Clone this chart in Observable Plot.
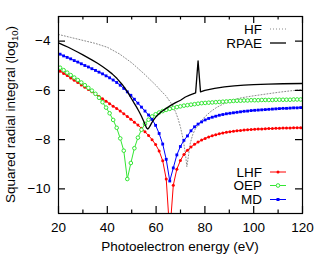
<!DOCTYPE html>
<html><head><meta charset="utf-8">
<script src="https://cdn.jsdelivr.net/npm/d3@7"></script>
<script src="https://cdn.jsdelivr.net/npm/@observablehq/plot@0.6"></script>
<style>
html,body{margin:0;padding:0;background:#fff;}
#chart{position:relative;width:327px;height:257px;}
</style></head><body><div id="chart"></div>
<script>
// Photoelectron energies (eV) of the computed points
const energies = [19.2, 20.65, 22.1, 23.55, 25, 26.45, 27.9, 29.35, 30.8, 32.25,
  33.7, 35.15, 36.6, 38.05, 39.5, 40.95, 42.4, 43.85, 45.3, 46.75,
  48.2, 49.65, 51.1, 52.55, 54, 55.45, 56.9, 58.35, 59.8, 61.25,
  62.7, 64.15, 65.6, 67.05, 68.5, 69.95, 71.4, 72.85, 74.3, 75.75,
  77.2, 78.65, 80.1, 81.55, 83, 84.45, 85.9, 87.35, 88.8, 90.25,
  91.7, 93.15, 94.6, 96.05, 97.5, 98.95, 100.4, 101.85, 103.3, 104.75,
  106.2, 107.65, 109.1, 110.55, 112, 113.45, 114.9, 116.35, 117.8, 119.25,
  120.7];
const lhf = [-5.13, -5.22, -5.31, -5.40, -5.50, -5.59, -5.68, -5.78, -5.87, -5.96,
  -6.06, -6.15, -6.25, -6.34, -6.44, -6.54, -6.64, -6.74, -6.84, -6.95,
  -7.06, -7.17, -7.29, -7.41, -7.54, -7.68, -7.83, -8.00, -8.20, -8.46,
  -8.86, -9.60, -11.8, -9.85, -9.20, -8.85, -8.60, -8.43, -8.30, -8.19,
  -8.10, -8.02, -7.95, -7.89, -7.84, -7.80, -7.76, -7.73, -7.70, -7.68,
  -7.66, -7.64, -7.63, -7.61, -7.60, -7.59, -7.58, -7.57, -7.57, -7.56,
  -7.55, -7.55, -7.54, -7.54, -7.53, -7.53, -7.53, -7.52, -7.52, -7.52,
  -7.52];
const oep = [-4.98, -5.08, -5.18, -5.28, -5.38, -5.48, -5.58, -5.68, -5.79, -5.90,
  -6.01, -6.14, -6.30, -6.48, -6.70, -6.93, -7.20, -7.52, -7.95, -8.45,
  -9.60, -8.95, -8.35, -7.92, -7.60, -7.36, -7.19, -7.06, -6.97, -6.90,
  -6.84, -6.79, -6.75, -6.71, -6.68, -6.65, -6.62, -6.60, -6.58, -6.56,
  -6.54, -6.52, -6.51, -6.50, -6.49, -6.48, -6.47, -6.46, -6.45, -6.44,
  -6.43, -6.42, -6.42, -6.41, -6.41, -6.40, -6.40, -6.40, -6.39, -6.39,
  -6.39, -6.39, -6.38, -6.38, -6.38, -6.38, -6.38, -6.37, -6.37, -6.37,
  -6.37];
const md = [-4.46, -4.53, -4.60, -4.66, -4.72, -4.79, -4.85, -4.92, -4.99, -5.05,
  -5.12, -5.19, -5.26, -5.33, -5.41, -5.49, -5.58, -5.68, -5.79, -5.92,
  -6.06, -6.20, -6.36, -6.52, -6.68, -6.84, -7.00, -7.18, -7.42, -7.75,
  -8.18, -8.80, -9.68, -9.15, -8.62, -8.28, -8.03, -7.85, -7.64, -7.48,
  -7.37, -7.28, -7.20, -7.14, -7.09, -7.05, -7.01, -6.98, -6.95, -6.93,
  -6.91, -6.89, -6.87, -6.85, -6.84, -6.82, -6.81, -6.80, -6.79, -6.78,
  -6.77, -6.76, -6.75, -6.74, -6.73, -6.73, -6.72, -6.71, -6.71, -6.70,
  -6.70];
const hfEnergy = [20, 25, 30, 35, 40, 45, 50, 55, 60, 62, 64, 66, 67, 68, 69, 70, 71, 72, 72.6,
  73.2, 74, 75, 76, 78, 80, 82.5, 85, 90, 95, 100, 105, 110, 115, 120];
const hf = [-3.73, -3.85, -3.97, -4.09, -4.25, -4.52, -4.88, -5.32, -5.80, -6.02, -6.22, -6.50, -6.66, -6.88, -7.15, -7.50, -7.95, -8.55, -9.10,
  -8.70, -8.15, -7.80, -7.58, -7.30, -7.07, -6.85, -6.68, -6.43, -6.30, -6.22, -6.15, -6.08, -6.02, -5.97];
const rpaeEnergy = [20, 22, 24, 26, 28, 30, 32, 34, 36, 38, 40, 42, 44, 46, 47, 48, 49, 50, 51, 52, 53, 54, 55,
  55.6, 56.1, 56.6, 57.1, 57.6, 58.2, 59, 60, 61, 62, 64, 66, 68, 70, 72, 74, 76.2, 77.2, 78.2,
  80, 84, 88, 92, 96, 100, 106, 112, 120];
const rpae = [-4.07, -4.16, -4.25, -4.35, -4.45, -4.56, -4.67, -4.78, -4.90, -5.03, -5.17, -5.33, -5.52, -5.75, -5.88, -6.02, -6.18, -6.35, -6.52, -6.68, -6.86, -7.05, -7.27,
  -7.42, -7.53, -7.57, -7.52, -7.43, -7.32, -7.20, -7.07, -6.97, -6.88, -6.74, -6.61, -6.50, -6.40, -6.27, -6.18, -6.10, -4.80, -6.06,
  -6.00, -5.92, -5.86, -5.82, -5.79, -5.77, -5.75, -5.73, -5.72];

const xMajorTicks = [20, 40, 60, 80, 100, 120];
const xMinorTicks = [30, 50, 70, 90, 110];
const yTicks = [-4, -6, -8, -10];
const xLabel = "Photoelectron energy (eV)";
const yLabelMain = "Squared radial integral (log";
const yLabelSub = "10";
const yLabelEnd = ")";

const colors = {HF: "#8a8a8a", RPAE: "#000000", LHF: "#ff0000", OEP: "#33e633", MD: "#0000ff"};

const toRows = (xs, ys) => xs.map((x, i) => ({x, y: ys[i]}));
const lhfRows = toRows(energies, lhf);
const oepRows = toRows(energies, oep);
const mdRows = toRows(energies, md);
const hfRows = toRows(hfEnergy, hf);
const rpaeRows = toRows(rpaeEnergy, rpae);

const font = "'Liberation Sans', Arial, Helvetica, sans-serif";
const W = 327, H = 257, mL = 58, mR = 25, mT = 16, mB = 44;
const fw = W - mL - mR, fh = H - mT - mB;
const major = 7, minor = 3.5;

const svg = Plot.plot({
  width: W,
  height: H,
  marginLeft: mL,
  marginRight: mR,
  marginTop: mT,
  marginBottom: mB,
  style: {fontFamily: font, fontSize: "13.5px", background: "white", color: "black"},
  x: {domain: [20, 120]},
  y: {domain: [-11, -3]},
  marks: [
    Plot.line(hfRows, {x: "x", y: "y", stroke: colors.HF, strokeWidth: 1, strokeDasharray: "1,2", clip: true}),
    Plot.line(lhfRows, {x: "x", y: "y", stroke: colors.LHF, strokeWidth: 1, clip: true}),
    Plot.dot(lhfRows, {x: "x", y: "y", fill: colors.LHF, r: 1.5, clip: true}),
    Plot.line(oepRows, {x: "x", y: "y", stroke: colors.OEP, strokeWidth: 1, clip: true}),
    Plot.dot(oepRows, {x: "x", y: "y", stroke: colors.OEP, fill: "white", r: 1.8, strokeWidth: 1, clip: true}),
    Plot.line(mdRows, {x: "x", y: "y", stroke: colors.MD, strokeWidth: 1, clip: true}),
    Plot.dot(mdRows, {x: "x", y: "y", symbol: "square", fill: colors.MD, r: 1.6, clip: true}),
    Plot.line(rpaeRows, {x: "x", y: "y", stroke: colors.RPAE, strokeWidth: 1.3, clip: true}),
    Plot.frame({stroke: "black", strokeWidth: 1.2}),
    // inward ticks (bottom, top, left, right)
    Plot.tickX(xMajorTicks, {x: d => d, insetTop: fh - major, stroke: "black", strokeWidth: 1.2}),
    Plot.tickX(xMinorTicks, {x: d => d, insetTop: fh - minor, stroke: "black", strokeWidth: 1.2}),
    Plot.tickX(xMajorTicks, {x: d => d, insetBottom: fh - major, stroke: "black", strokeWidth: 1.2}),
    Plot.tickX(xMinorTicks, {x: d => d, insetBottom: fh - minor, stroke: "black", strokeWidth: 1.2}),
    Plot.tickY(yTicks, {y: d => d, insetRight: fw - major, stroke: "black", strokeWidth: 1.2}),
    Plot.tickY(yTicks, {y: d => d, insetLeft: fw - major, stroke: "black", strokeWidth: 1.2}),
    Plot.axisX(xMajorTicks, {anchor: "bottom", tickSize: 0, tickPadding: 9, label: null, fontSize: 13.5}),
    Plot.axisY(yTicks, {anchor: "left", tickSize: 0, tickPadding: 8, label: null, fontSize: 13.5})
  ]
});

const root = d3.select(svg);
// axis titles
root.append("text")
  .attr("x", mL + fw / 2).attr("y", 251)
  .attr("text-anchor", "middle")
  .attr("font-family", font).attr("font-size", 13.5).attr("fill", "black")
  .text(xLabel);
const yl = root.append("text")
  .attr("transform", `translate(14.5,${mT + fh / 2}) rotate(-90)`)
  .attr("text-anchor", "middle")
  .attr("font-family", font).attr("font-size", 13.5).attr("fill", "black");
yl.append("tspan").text(yLabelMain);
yl.append("tspan").attr("baseline-shift", "-25%").attr("font-size", 9.5).text(yLabelSub);
yl.append("tspan").text(yLabelEnd);

// legends
const legendItems = [
  {name: "HF", cy: 29, kind: "dotted"},
  {name: "RPAE", cy: 43, kind: "solid"},
  {name: "LHF", cy: 172, kind: "dot"},
  {name: "OEP", cy: 185.5, kind: "circle"},
  {name: "MD", cy: 199.5, kind: "square"}
];
const lg = root.append("g");
legendItems.forEach(d => {
  lg.append("text").attr("x", 262).attr("y", d.cy + 4.8)
    .attr("text-anchor", "end").attr("font-family", font).attr("font-size", 13.5).attr("fill", "black")
    .text(d.name);
  const ln = lg.append("line").attr("x1", 270).attr("x2", 286).attr("y1", d.cy).attr("y2", d.cy)
    .attr("stroke", colors[d.name]).attr("stroke-width", d.kind === "solid" ? 1.3 : 1);
  if (d.kind === "dotted") ln.attr("stroke-dasharray", "1,2");
  if (d.kind === "dot") lg.append("circle").attr("cx", 278).attr("cy", d.cy).attr("r", 1.5).attr("fill", colors[d.name]);
  if (d.kind === "circle") lg.append("circle").attr("cx", 278).attr("cy", d.cy).attr("r", 1.8).attr("fill", "white").attr("stroke", colors[d.name]);
  if (d.kind === "square") lg.append("rect").attr("x", 276.5).attr("y", d.cy - 1.5).attr("width", 3).attr("height", 3).attr("fill", colors[d.name]);
});

document.getElementById("chart").appendChild(svg);
</script>
</body></html>
